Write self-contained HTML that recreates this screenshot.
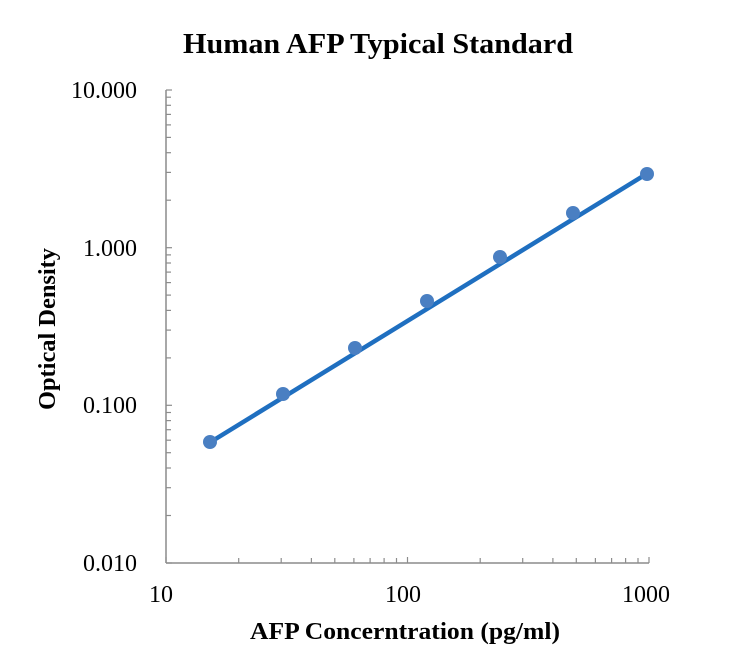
<!DOCTYPE html>
<html><head><style>body{margin:0;background:#fff}</style></head><body>
<svg width="734" height="654" xmlns="http://www.w3.org/2000/svg" font-family="Liberation Serif, serif">
<text x="378" y="53" font-size="29" font-weight="bold" text-anchor="middle" textLength="390" lengthAdjust="spacingAndGlyphs">Human AFP Typical Standard</text>
<g stroke="#8c8c8c" stroke-width="1.5" fill="none">
<line x1="166" y1="90" x2="166" y2="563"/>
<line x1="166" y1="563" x2="649" y2="563"/>
</g>
<g stroke="#8c8c8c" stroke-width="1.2">
<line x1="166" y1="90" x2="172" y2="90"/><line x1="166" y1="247.7" x2="172" y2="247.7"/><line x1="166" y1="405.3" x2="172" y2="405.3"/><line x1="166" y1="563" x2="172" y2="563"/>
<g id="ym">
<line x1="166" y1="97.2" x2="171" y2="97.2"/><line x1="166" y1="105.3" x2="171" y2="105.3"/><line x1="166" y1="114.4" x2="171" y2="114.4"/><line x1="166" y1="124.9" x2="171" y2="124.9"/><line x1="166" y1="137.4" x2="171" y2="137.4"/><line x1="166" y1="152.7" x2="171" y2="152.7"/><line x1="166" y1="172.4" x2="171" y2="172.4"/><line x1="166" y1="200.2" x2="171" y2="200.2"/>
</g>
<use href="#ym" y="157.7"/><use href="#ym" y="315.3"/>
<line x1="166" y1="563" x2="166" y2="557"/><line x1="407.5" y1="563" x2="407.5" y2="557"/><line x1="649" y1="563" x2="649" y2="557"/>
<g id="xm">
<line x1="238.7" y1="563" x2="238.7" y2="558"/><line x1="281.2" y1="563" x2="281.2" y2="558"/><line x1="311.4" y1="563" x2="311.4" y2="558"/><line x1="334.8" y1="563" x2="334.8" y2="558"/><line x1="353.9" y1="563" x2="353.9" y2="558"/><line x1="370.1" y1="563" x2="370.1" y2="558"/><line x1="384.1" y1="563" x2="384.1" y2="558"/><line x1="396.5" y1="563" x2="396.5" y2="558"/>
</g>
<use href="#xm" x="241.5"/>
</g>
<g font-size="24" text-anchor="end">
<text x="137" y="98">10.000</text><text x="137" y="256">1.000</text><text x="137" y="413">0.100</text><text x="137" y="571">0.010</text>
</g>
<g font-size="24" text-anchor="middle">
<text x="161" y="602">10</text><text x="403" y="602">100</text><text x="646" y="602">1000</text>
</g>
<text x="405" y="639" font-size="24" font-weight="bold" text-anchor="middle" textLength="310" lengthAdjust="spacingAndGlyphs">AFP Concerntration (pg/ml)</text>
<text transform="translate(55,329) rotate(-90)" font-size="24" font-weight="bold" text-anchor="middle" textLength="162" lengthAdjust="spacingAndGlyphs">Optical Density</text>
<line x1="209" y1="443" x2="648" y2="173" stroke="#1f6fc0" stroke-width="4.5" stroke-linecap="round"/>
<g fill="#4a7fc2">
<circle cx="210" cy="442" r="7"/><circle cx="283" cy="394" r="7"/><circle cx="355" cy="348" r="7"/><circle cx="427" cy="301" r="7"/><circle cx="500" cy="257" r="7"/><circle cx="573" cy="213" r="7"/><circle cx="647" cy="174" r="7"/>
</g>
</svg>
</body></html>
